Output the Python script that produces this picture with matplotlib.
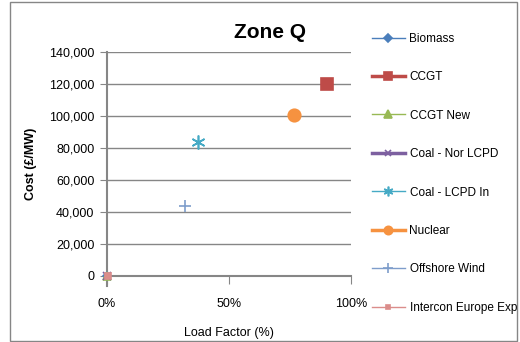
import matplotlib
matplotlib.use('Agg')
import matplotlib.pyplot as plt
from matplotlib.patches import Rectangle

# series data (load factor as fraction, cost in GBP/MW)
names = ['Biomass', 'CCGT', 'CCGT New', 'Coal - Nor LCPD', 'Coal - LCPD In',
         'Nuclear', 'Offshore Wind', 'Intercon Europe Exp']
load_factor = [0.0, 0.90, 0.0, 0.0, 0.373, 0.766, 0.32, 0.005]
cost = [0, 120000, 0, 0, 84000, 100500, 44000, 0]

colors = ['#4A7EBB', '#BE4B48', '#98B954', '#7D60A0', '#46AAC5',
          '#F69240', '#7E9DCB', '#DB8D8B']
markers = ['D', 's', '^', 'x', (6, 2, 0), 'o', '+', 's']
msizes = [4, 9, 6, 6, 10, 9, 9, 4]
leg_msizes = [4, 6, 6, 5, 7, 6, 7, 3]
lwidths = [1, 2.5, 1, 2.5, 1, 2.5, 1, 1]

plt.rcParams['font.family'] = ['Liberation Sans', 'DejaVu Sans']

fig = plt.figure(figsize=(5.2, 3.42), dpi=100)
ax = fig.add_axes([107/520, 1-276/342, 244/520, 224/342])

handles = []
for i in range(len(names)):
    h, = ax.plot([load_factor[i]], [cost[i]], linestyle='-', lw=lwidths[i],
                 marker=markers[i], ms=msizes[i], color=colors[i],
                 mew=1.2, clip_on=False, zorder=3, label=names[i])
    handles.append(h)

ax.set_xlim(0, 1)
ax.set_ylim(0, 140000)
ax.set_xticks([0, 0.5, 1])
ax.set_xticklabels(['0%', '50%', '100%'])
ax.set_yticks(range(0, 140001, 20000))
ax.set_yticklabels(['{:,}'.format(v) for v in range(0, 140001, 20000)])
ax.yaxis.grid(True, color='#868686', lw=1)
ax.set_axisbelow(True)
for s in ['top', 'right']:
    ax.spines[s].set_visible(False)
for s in ['left', 'bottom']:
    ax.spines[s].set_color('#868686')
    ax.spines[s].set_linewidth(1.5)
ax.spines['left'].set_bounds(-6000, 140000)
ax.tick_params(axis='x', length=6, color='#868686', pad=10, labelsize=9)
ax.tick_params(axis='y', length=5, color='#868686', pad=4, labelsize=9)

ax.set_xlabel('Load Factor (%)', fontsize=9, labelpad=12)
ax.set_ylabel('Cost (£/MW)', fontsize=9, fontweight='bold', labelpad=9)
fig.text(270/520, 1-33/342, 'Zone Q', fontsize=15, fontweight='bold',
         ha='center', va='center')

leg = fig.legend(handles=handles, loc='upper left',
                 bbox_to_anchor=(367/520, 1-28/342),
                 frameon=False, fontsize=8.5, handlelength=2.8, labelspacing=2.24,
                 handletextpad=0.4, borderaxespad=0)
for lh, ms in zip(leg.legend_handles, leg_msizes):
    lh.set_markersize(ms)

fig.patches.append(Rectangle((10/520, 1/342), 507/520, 339/342,
                             transform=fig.transFigure, fill=False,
                             edgecolor='#868686', lw=1))

fig.savefig('out.png', dpi=100)
